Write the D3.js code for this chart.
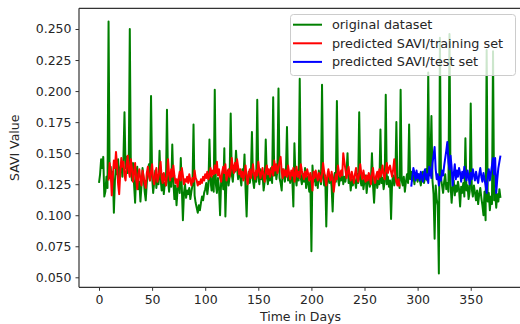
<!DOCTYPE html>
<html>
<head>
<meta charset="utf-8">
<script src="https://cdn.jsdelivr.net/npm/d3@7"></script>
<style>
    body { margin: 0; background: #fff; }
    text { font-family: "DejaVu Sans", sans-serif; fill: #262626; }
</style>
</head>
<body>
<div id="chart"></div>
<script>
// original SAVI series, one value per day starting at day 0
let original = [
    0.126, 0.133, 0.145, 0.138, 0.147, 0.115, 0.119, 0.131, 0.122, 0.256,
    0.130, 0.139, 0.127, 0.135, 0.102, 0.128, 0.140, 0.133, 0.145, 0.129,
    0.137, 0.142, 0.131, 0.146, 0.183, 0.138, 0.147, 0.134, 0.141, 0.250,
    0.136, 0.128, 0.142, 0.125, 0.110, 0.133, 0.139, 0.121, 0.127, 0.111,
    0.124, 0.138, 0.130, 0.119, 0.112, 0.126, 0.134, 0.141, 0.128, 0.196,
    0.131, 0.118, 0.127, 0.136, 0.122, 0.130, 0.125, 0.152, 0.129, 0.120,
    0.133, 0.117, 0.126, 0.124, 0.185, 0.128, 0.119, 0.131, 0.123, 0.157,
    0.127, 0.113, 0.124, 0.108, 0.121, 0.129, 0.118, 0.146, 0.122, 0.096,
    0.118, 0.125, 0.114, 0.120, 0.117, 0.122, 0.113, 0.119, 0.124, 0.173,
    0.116, 0.110, 0.106, 0.102, 0.108, 0.104, 0.110, 0.115, 0.112, 0.118,
    0.121, 0.126, 0.117, 0.124, 0.161, 0.128, 0.120, 0.131, 0.119, 0.201,
    0.125, 0.118, 0.130, 0.122, 0.100, 0.127, 0.133, 0.121, 0.154, 0.099,
    0.128, 0.136, 0.124, 0.131, 0.182, 0.133, 0.127, 0.140, 0.135, 0.152,
    0.138, 0.129, 0.136, 0.131, 0.124, 0.137, 0.130, 0.149, 0.121, 0.099,
    0.129, 0.135, 0.126, 0.132, 0.167, 0.128, 0.122, 0.134, 0.127, 0.193,
    0.131, 0.125, 0.137, 0.129, 0.133, 0.120, 0.127, 0.161, 0.131, 0.125,
    0.134, 0.128, 0.138, 0.126, 0.195, 0.132, 0.140, 0.129, 0.136, 0.202,
    0.130, 0.126, 0.120, 0.137, 0.133, 0.127, 0.135, 0.171, 0.128, 0.132,
    0.126, 0.134, 0.129, 0.107, 0.158, 0.131, 0.124, 0.136, 0.128, 0.210,
    0.130, 0.125, 0.133, 0.127, 0.138, 0.122, 0.131, 0.126, 0.119, 0.128,
    0.071, 0.140, 0.127, 0.133, 0.124, 0.131, 0.122, 0.136, 0.129, 0.125,
    0.205, 0.130, 0.124, 0.132, 0.091, 0.128, 0.135, 0.126, 0.131, 0.123,
    0.103, 0.129, 0.134, 0.127, 0.192, 0.130, 0.124, 0.133, 0.128, 0.136,
    0.125, 0.131, 0.127, 0.134, 0.150, 0.126, 0.132, 0.120, 0.129, 0.124,
    0.131, 0.127, 0.122, 0.133, 0.126, 0.183, 0.129, 0.124, 0.131, 0.121,
    0.128, 0.132, 0.118, 0.127, 0.130, 0.123, 0.126, 0.150, 0.124, 0.110,
    0.127, 0.131, 0.122, 0.128, 0.125, 0.169, 0.126, 0.130, 0.121, 0.127,
    0.197, 0.125, 0.131, 0.123, 0.128, 0.097, 0.127, 0.132, 0.124, 0.129,
    0.175, 0.126, 0.130, 0.122, 0.201, 0.128, 0.124, 0.131, 0.119, 0.127,
    0.133, 0.126, 0.173, 0.129, 0.135, 0.128, 0.132, 0.125, 0.134, 0.130,
    0.127, 0.133, 0.129, 0.124, 0.131, 0.135, 0.126, 0.130, 0.137, 0.128,
    0.215, 0.132, 0.141, 0.180, 0.128, 0.117, 0.081, 0.124, 0.113, 0.108,
    0.053, 0.243, 0.130, 0.124, 0.118, 0.127, 0.133, 0.121, 0.126, 0.119,
    0.246, 0.125, 0.110, 0.122, 0.128, 0.116, 0.124, 0.119, 0.127, 0.121,
    0.107, 0.123, 0.118, 0.126, 0.115, 0.162, 0.120, 0.124, 0.113, 0.119,
    0.190, 0.121, 0.115, 0.124, 0.118, 0.112, 0.120, 0.109, 0.117, 0.122,
    0.114, 0.108, 0.100, 0.119, 0.096, 0.233, 0.111, 0.118, 0.104, 0.115,
    0.109, 0.232, 0.112, 0.120, 0.106, 0.117, 0.111, 0.121, 0.114
];

// training predictions start at day 9
let trainStart = 9;
let trainPred = [
    0.128, 0.142, 0.135, 0.116, 0.131, 0.144, 0.138, 0.151, 0.140, 0.125,
    0.117, 0.134, 0.146, 0.139, 0.143, 0.132, 0.128, 0.141, 0.148, 0.136,
    0.131, 0.145, 0.138, 0.127, 0.134, 0.142, 0.129, 0.121, 0.133, 0.137,
    0.128, 0.124, 0.136, 0.131, 0.126, 0.122, 0.134, 0.139, 0.132, 0.128,
    0.135, 0.141, 0.129, 0.125, 0.133, 0.138, 0.127, 0.131, 0.136, 0.143,
    0.130, 0.126, 0.134, 0.129, 0.124, 0.132, 0.145, 0.133, 0.128, 0.137,
    0.131, 0.140, 0.132, 0.126, 0.129, 0.123, 0.130, 0.135, 0.128, 0.138,
    0.132, 0.125, 0.129, 0.127, 0.131, 0.126, 0.133, 0.128, 0.124, 0.130,
    0.127, 0.136, 0.130, 0.128, 0.124, 0.127, 0.125, 0.129, 0.126, 0.131,
    0.128, 0.133, 0.130, 0.135, 0.129, 0.132, 0.138, 0.131, 0.136, 0.133,
    0.140, 0.134, 0.143, 0.132, 0.137, 0.130, 0.127, 0.135, 0.139, 0.134,
    0.141, 0.128, 0.133, 0.137, 0.131, 0.136, 0.146, 0.138, 0.134, 0.142,
    0.136, 0.145, 0.139, 0.133, 0.137, 0.131, 0.135, 0.128, 0.134, 0.140,
    0.131, 0.125, 0.133, 0.137, 0.130, 0.135, 0.141, 0.133, 0.129, 0.136,
    0.132, 0.143, 0.136, 0.130, 0.134, 0.138, 0.131, 0.127, 0.135, 0.140,
    0.133, 0.137, 0.131, 0.135, 0.139, 0.132, 0.144, 0.136, 0.141, 0.134,
    0.138, 0.143, 0.147, 0.135, 0.130, 0.137, 0.132, 0.136, 0.131, 0.140,
    0.134, 0.129, 0.136, 0.132, 0.138, 0.127, 0.133, 0.139, 0.131, 0.135,
    0.130, 0.141, 0.136, 0.132, 0.129, 0.135, 0.131, 0.137, 0.133, 0.128,
    0.134, 0.129, 0.120, 0.135, 0.130, 0.136, 0.132, 0.128, 0.134, 0.131,
    0.127, 0.133, 0.142, 0.135, 0.130, 0.124, 0.132, 0.137, 0.131, 0.128,
    0.135, 0.130, 0.119, 0.126, 0.133, 0.129, 0.140, 0.134, 0.131, 0.136,
    0.132, 0.150, 0.143, 0.137, 0.130, 0.134, 0.139, 0.132, 0.128, 0.135,
    0.131, 0.126, 0.133, 0.138, 0.130, 0.127, 0.134, 0.141, 0.133, 0.129,
    0.136, 0.130, 0.127, 0.132, 0.128, 0.134, 0.131, 0.125, 0.133, 0.138,
    0.130, 0.126, 0.132, 0.135, 0.129, 0.137, 0.131, 0.134, 0.140, 0.133,
    0.129, 0.136, 0.142, 0.134, 0.138, 0.140, 0.135, 0.131, 0.137, 0.145,
    0.132, 0.127, 0.124, 0.129, 0.123
];

// test predictions start at day 294
let testStart = 294;
let testPred = [
    0.123, 0.131, 0.138, 0.134, 0.128, 0.136, 0.130, 0.133, 0.128, 0.135,
    0.131, 0.127, 0.134, 0.137, 0.129, 0.133, 0.126, 0.139, 0.135, 0.130,
    0.142, 0.148, 0.155, 0.137, 0.129, 0.133, 0.124, 0.131, 0.128, 0.136,
    0.132, 0.140, 0.146, 0.152, 0.159, 0.143, 0.137, 0.148, 0.139, 0.124,
    0.133, 0.141, 0.129, 0.136, 0.131, 0.138, 0.134, 0.127, 0.135, 0.130,
    0.139, 0.133, 0.128, 0.136, 0.131, 0.125, 0.134, 0.129, 0.137, 0.132,
    0.128, 0.135, 0.130, 0.126, 0.133, 0.138, 0.131, 0.127, 0.134, 0.129,
    0.124, 0.118, 0.131, 0.137, 0.128, 0.134, 0.140, 0.146, 0.133, 0.146,
    0.118, 0.129, 0.138, 0.143, 0.148
];

let xTicks = [0, 50, 100, 150, 200, 250, 300, 350];
let yTicks = [0.050, 0.075, 0.100, 0.125, 0.150, 0.175, 0.200, 0.225, 0.250];
let seriesNames = ["original dataset", "predicted SAVI/training set", "predicted SAVI/test set"];
let seriesColors = ["green", "red", "blue"];

let width = 520, height = 324;
let plotLeft = 79, plotTop = 8.3, plotRight = 520, plotBottom = 287.3;

let svg = d3.select("#chart")
    .append("svg")
    .attr("width", width)
    .attr("height", height);

let x = d3.scaleLinear()
    .domain([-18.83, 396.4])
    .range([plotLeft, plotRight]);
let y = d3.scaleLinear()
    .domain([0.04195, 0.26667])
    .range([plotBottom, plotTop]);

svg.append("defs").append("clipPath")
    .attr("id", "plot-clip")
    .append("rect")
    .attr("x", plotLeft).attr("y", plotTop)
    .attr("width", plotRight - plotLeft).attr("height", plotBottom - plotTop);

let line = d3.line()
    .x(d => x(d[0]))
    .y(d => y(d[1]));

let series = [
    original.map((v, i) => [i, v]),
    trainPred.map((v, i) => [i + trainStart, v]),
    testPred.map((v, i) => [i + testStart, v])
];

let plot = svg.append("g").attr("clip-path", "url(#plot-clip)");
plot.selectAll("path")
    .data(series)
    .enter()
    .append("path")
    .attr("d", line)
    .attr("fill", "none")
    .attr("stroke", (d, i) => seriesColors[i])
    .attr("stroke-width", 2)
    .attr("stroke-linejoin", "round");

// axes
let xAxis = svg.append("g")
    .attr("transform", "translate(0," + plotBottom + ")")
    .call(d3.axisBottom(x).tickValues(xTicks).tickSize(3.5).tickPadding(4).tickFormat(d3.format("d")));
let yAxis = svg.append("g")
    .attr("transform", "translate(" + plotLeft + ",0)")
    .call(d3.axisLeft(y).tickValues(yTicks).tickSize(3.5).tickPadding(4).tickFormat(d3.format(".3f")));

[xAxis, yAxis].forEach(a => {
    a.select(".domain").attr("stroke", "#333").attr("stroke-width", 1.2);
    a.selectAll(".tick line").attr("stroke", "#333");
    a.selectAll(".tick text")
        .style("font-family", "DejaVu Sans, sans-serif")
        .style("font-size", "12.5px")
        .attr("fill", "#262626");
});
yAxis.select(".domain").attr("d", "M0," + plotBottom + "V" + plotTop);
xAxis.select(".domain").attr("d", "M" + plotLeft + ",0H" + plotRight);

// top spine
svg.append("line")
    .attr("x1", plotLeft).attr("x2", plotRight)
    .attr("y1", plotTop).attr("y2", plotTop)
    .attr("stroke", "#333").attr("stroke-width", 1.2);

// axis labels
svg.append("text")
    .attr("x", (plotLeft + plotRight) / 2 + 1)
    .attr("y", 321)
    .attr("text-anchor", "middle")
    .style("font-size", "12.5px")
    .text("Time in Days");
svg.append("text")
    .attr("transform", "translate(19," + (plotTop + plotBottom) / 2 + ") rotate(-90)")
    .attr("text-anchor", "middle")
    .style("font-size", "12.5px")
    .text("SAVI Value");

// legend
let legend = svg.append("g");
legend.append("rect")
    .attr("x", 290.5).attr("y", 14.5)
    .attr("width", 225).attr("height", 61)
    .attr("rx", 3)
    .attr("fill", "white").attr("fill-opacity", 0.8)
    .attr("stroke", "#cccccc");
let items = legend.selectAll(".item")
    .data(seriesNames)
    .enter()
    .append("g")
    .attr("transform", (d, i) => "translate(0," + (24.7 + i * 18.6) + ")");
items.append("line")
    .attr("x1", 293).attr("x2", 322)
    .attr("stroke", (d, i) => seriesColors[i])
    .attr("stroke-width", 2);
items.append("text")
    .attr("x", 332)
    .attr("y", 4.5)
    .style("font-size", "12.8px")
    .text(d => d);
</script>
</body>
</html>
